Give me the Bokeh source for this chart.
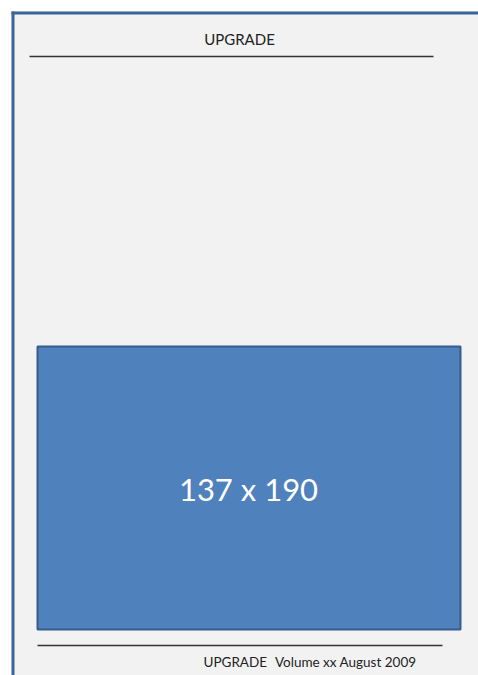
from bokeh.plotting import figure
from bokeh.models import Range1d
from bokeh.core.properties import value
from bokeh.embed import file_html
from bokeh.resources import INLINE

# Page mock-up content (page coordinates in pixels, y downward)
header_text = ["UPGRADE"]
footer_title = ["UPGRADE"]
footer_issue = ["Volume xx August 2009"]
placeholder_label = ["137 x 190"]

W, H = 478, 675
FONT = "Lato"
BORDER = "#3b6496"

p = figure(width=W, height=H, output_backend="svg", toolbar_location=None,
           x_range=Range1d(0, W), y_range=Range1d(H, 0),
           min_border=0, outline_line_color=None, background_fill_color="white",
           border_fill_color="white")
p.axis.visible = False
p.grid.visible = False

# page sheet
p.quad(left=[11], right=[W], top=[11], bottom=[H], fill_color="#f2f2f2", line_color=None)
# blue border on left and top
p.segment(x0=[12.5], y0=[11], x1=[12.5], y1=[H], line_color=BORDER, line_width=3)
p.segment(x0=[11], y0=[12.5], x1=[W], y1=[12.5], line_color=BORDER, line_width=3)

# header
p.text(x=[239], y=[38], text=header_text, text_align="center", text_baseline="middle",
       text_font=value(FONT), text_font_size="15px", text_color="#222222")
p.segment(x0=[29], y0=[56], x1=[433], y1=[56], line_color="#333333", line_width=1.5)

# placeholder image box
p.quad(left=[37], right=[460], top=[346], bottom=[629], fill_color="#4f81bd",
       line_color="#385d8a", line_width=2)
p.text(x=[248], y=[488], text=placeholder_label, text_align="center", text_baseline="middle",
       text_font=value(FONT), text_font_size="31px", text_color="white")

# footer
p.segment(x0=[37], y0=[645], x1=[442], y1=[645], line_color="#333333", line_width=1.5)
p.text(x=[203], y=[661], text=footer_title, text_align="left", text_baseline="middle",
       text_font=value(FONT), text_font_size="13.5px", text_color="#222222")
p.text(x=[416], y=[661], text=footer_issue, text_align="right", text_baseline="middle",
       text_font=value(FONT), text_font_size="13.5px", text_color="#222222")

open("out.html", "w").write(file_html(p, INLINE))
